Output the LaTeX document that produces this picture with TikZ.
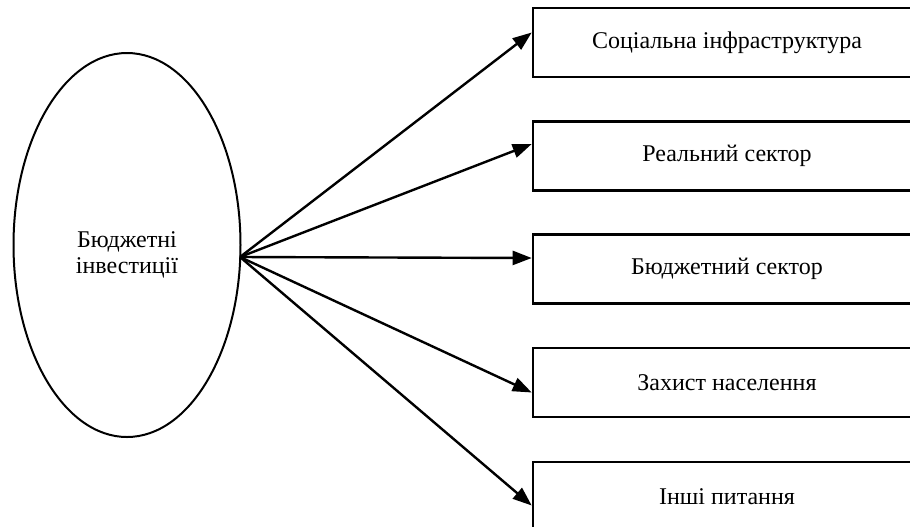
\documentclass[tikz,border=0pt]{standalone}
\usepackage{fontspec}
\setmainfont{Liberation Serif}
\usetikzlibrary{shapes.geometric,arrows.meta}

\tikzset{
    sector/.style={draw, line width=1.3pt, minimum width=194pt, minimum height=34.5pt, inner sep=0pt},
    flow/.style={line width=1.2pt, -{Triangle[length=9.5pt,width=7pt]}}
}

\begin{document}
\begin{tikzpicture}[x=0.5pt,y=-0.5pt,font=\fontsize{12}{13}\selectfont]
            \useasboundingbox (0,0) rectangle (910,526);
            % source
            \node[ellipse, draw, line width=1pt, minimum width=113.5pt, minimum height=192pt, inner sep=0pt] (budget) at (127,245) {\raisebox{-8pt}[0pt][0pt]{\parbox{60pt}{\centering Бюджетні\\інвестиції}}};
            \coordinate (hub) at (240,257);
            % directions
            \node[sector] (social) at (727,42.5) {Соціальна інфраструктура};
            \node[sector] (real) at (727,156) {Реальний сектор};
            \node[sector] (public) at (727,269) {Бюджетний сектор};
            \node[sector] (protect) at (727,382.5) {Захист населення};
            \node[sector] (other) at (727,496.5) {Інші питання};
            \draw[flow] (hub) -- ([yshift=5pt]social.west);
            \draw[flow] (hub) -- ([yshift=6pt]real.west);
            \draw[flow] (hub) -- ([yshift=5.5pt]public.west);
            \draw[flow] (hub) -- ([yshift=-5pt]protect.west);
            \draw[flow] (hub) -- ([yshift=-4.5pt]other.west);
        \end{tikzpicture}
\end{document}
